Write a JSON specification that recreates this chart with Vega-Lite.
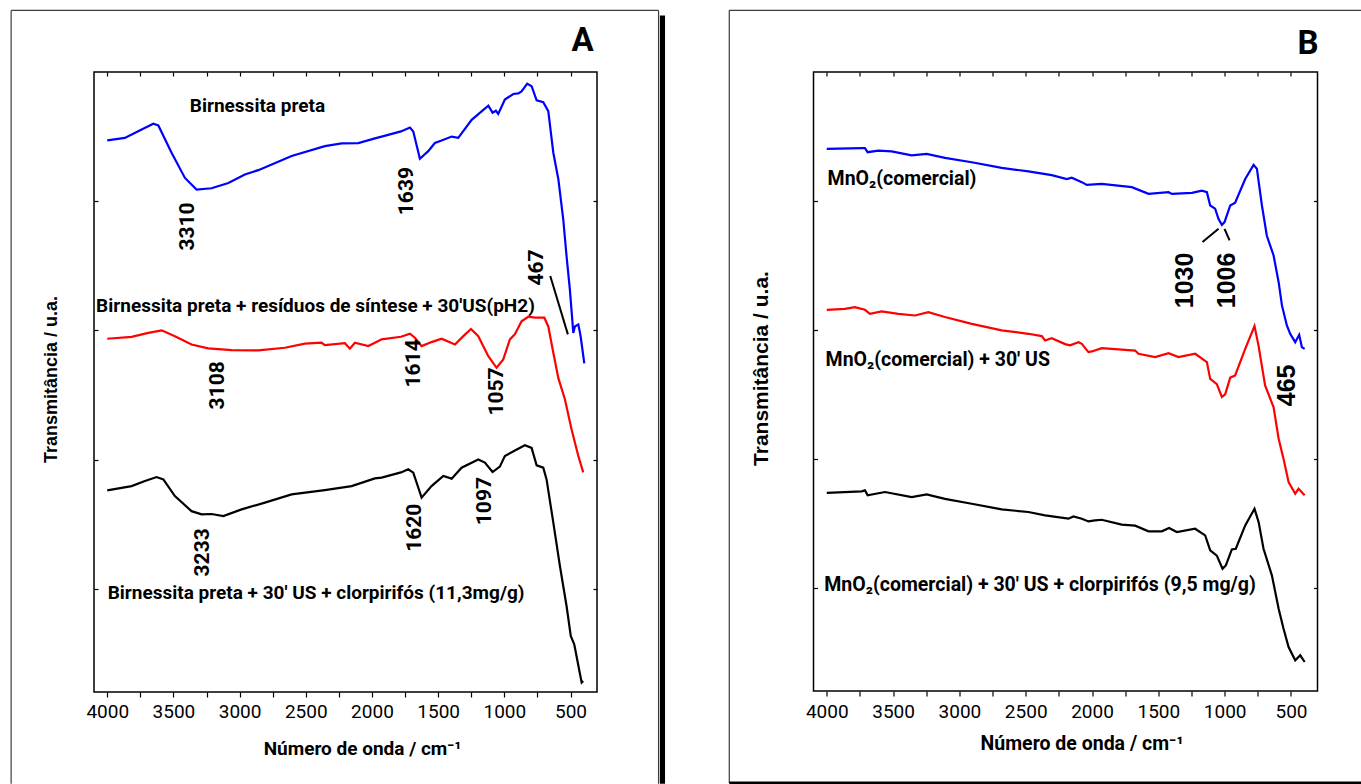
{
  "$schema": "https://vega.github.io/schema/vega-lite/v6.json",
  "background": "white",
  "padding": {"left": 9, "top": 9, "right": 0, "bottom": 0},
  "bounds": "flush",
  "spacing": 216.5,
  "config": {
    "view": {"stroke": "black", "strokeWidth": 1.5},
    "axis": {"grid": false, "domain": false, "tickColor": "black", "tickWidth": 1.2, "labelColor": "black", "titleColor": "black"}
  },
  "datasets": {
    "espectros_A": [
      {"amostra": "Birnessita preta", "numero_onda": 4000, "transmitancia": 4.27},
      {"amostra": "Birnessita preta", "numero_onda": 3867, "transmitancia": 4.29},
      {"amostra": "Birnessita preta", "numero_onda": 3740, "transmitancia": 4.355},
      {"amostra": "Birnessita preta", "numero_onda": 3652, "transmitancia": 4.40},
      {"amostra": "Birnessita preta", "numero_onda": 3614, "transmitancia": 4.386},
      {"amostra": "Birnessita preta", "numero_onda": 3514, "transmitancia": 4.175},
      {"amostra": "Birnessita preta", "numero_onda": 3413, "transmitancia": 3.98},
      {"amostra": "Birnessita preta", "numero_onda": 3325, "transmitancia": 3.89},
      {"amostra": "Birnessita preta", "numero_onda": 3212, "transmitancia": 3.90},
      {"amostra": "Birnessita preta", "numero_onda": 3085, "transmitancia": 3.94},
      {"amostra": "Birnessita preta", "numero_onda": 2960, "transmitancia": 4.007},
      {"amostra": "Birnessita preta", "numero_onda": 2859, "transmitancia": 4.04},
      {"amostra": "Birnessita preta", "numero_onda": 2607, "transmitancia": 4.15},
      {"amostra": "Birnessita preta", "numero_onda": 2356, "transmitancia": 4.226},
      {"amostra": "Birnessita preta", "numero_onda": 2229, "transmitancia": 4.247},
      {"amostra": "Birnessita preta", "numero_onda": 2103, "transmitancia": 4.25},
      {"amostra": "Birnessita preta", "numero_onda": 1978, "transmitancia": 4.286},
      {"amostra": "Birnessita preta", "numero_onda": 1927, "transmitancia": 4.30},
      {"amostra": "Birnessita preta", "numero_onda": 1781, "transmitancia": 4.34},
      {"amostra": "Birnessita preta", "numero_onda": 1713, "transmitancia": 4.37},
      {"amostra": "Birnessita preta", "numero_onda": 1688, "transmitancia": 4.34},
      {"amostra": "Birnessita preta", "numero_onda": 1638, "transmitancia": 4.128},
      {"amostra": "Birnessita preta", "numero_onda": 1575, "transmitancia": 4.187},
      {"amostra": "Birnessita preta", "numero_onda": 1525, "transmitancia": 4.25},
      {"amostra": "Birnessita preta", "numero_onda": 1474, "transmitancia": 4.27},
      {"amostra": "Birnessita preta", "numero_onda": 1398, "transmitancia": 4.30},
      {"amostra": "Birnessita preta", "numero_onda": 1348, "transmitancia": 4.29},
      {"amostra": "Birnessita preta", "numero_onda": 1247, "transmitancia": 4.43},
      {"amostra": "Birnessita preta", "numero_onda": 1121, "transmitancia": 4.54},
      {"amostra": "Birnessita preta", "numero_onda": 1089, "transmitancia": 4.485},
      {"amostra": "Birnessita preta", "numero_onda": 1064, "transmitancia": 4.50},
      {"amostra": "Birnessita preta", "numero_onda": 1046, "transmitancia": 4.476},
      {"amostra": "Birnessita preta", "numero_onda": 996, "transmitancia": 4.587},
      {"amostra": "Birnessita preta", "numero_onda": 932, "transmitancia": 4.63},
      {"amostra": "Birnessita preta", "numero_onda": 895, "transmitancia": 4.634},
      {"amostra": "Birnessita preta", "numero_onda": 870, "transmitancia": 4.65},
      {"amostra": "Birnessita preta", "numero_onda": 827, "transmitancia": 4.71},
      {"amostra": "Birnessita preta", "numero_onda": 794, "transmitancia": 4.69},
      {"amostra": "Birnessita preta", "numero_onda": 756, "transmitancia": 4.58},
      {"amostra": "Birnessita preta", "numero_onda": 706, "transmitancia": 4.567},
      {"amostra": "Birnessita preta", "numero_onda": 668, "transmitancia": 4.497},
      {"amostra": "Birnessita preta", "numero_onda": 630, "transmitancia": 4.175},
      {"amostra": "Birnessita preta", "numero_onda": 592, "transmitancia": 3.97},
      {"amostra": "Birnessita preta", "numero_onda": 555, "transmitancia": 3.66},
      {"amostra": "Birnessita preta", "numero_onda": 530, "transmitancia": 3.375},
      {"amostra": "Birnessita preta", "numero_onda": 505, "transmitancia": 3.117},
      {"amostra": "Birnessita preta", "numero_onda": 479, "transmitancia": 2.78},
      {"amostra": "Birnessita preta", "numero_onda": 467, "transmitancia": 2.83},
      {"amostra": "Birnessita preta", "numero_onda": 441, "transmitancia": 2.846},
      {"amostra": "Birnessita preta", "numero_onda": 424, "transmitancia": 2.756},
      {"amostra": "Birnessita preta", "numero_onda": 396, "transmitancia": 2.544},

      {"amostra": "Birnessita + resíduos (pH2)", "numero_onda": 4000, "transmitancia": 2.735},
      {"amostra": "Birnessita + resíduos (pH2)", "numero_onda": 3816, "transmitancia": 2.75},
      {"amostra": "Birnessita + resíduos (pH2)", "numero_onda": 3690, "transmitancia": 2.78},
      {"amostra": "Birnessita + resíduos (pH2)", "numero_onda": 3589, "transmitancia": 2.80},
      {"amostra": "Birnessita + resíduos (pH2)", "numero_onda": 3489, "transmitancia": 2.755},
      {"amostra": "Birnessita + resíduos (pH2)", "numero_onda": 3363, "transmitancia": 2.69},
      {"amostra": "Birnessita + resíduos (pH2)", "numero_onda": 3237, "transmitancia": 2.66},
      {"amostra": "Birnessita + resíduos (pH2)", "numero_onda": 3060, "transmitancia": 2.647},
      {"amostra": "Birnessita + resíduos (pH2)", "numero_onda": 2859, "transmitancia": 2.645},
      {"amostra": "Birnessita + resíduos (pH2)", "numero_onda": 2658, "transmitancia": 2.665},
      {"amostra": "Birnessita + resíduos (pH2)", "numero_onda": 2507, "transmitancia": 2.697},
      {"amostra": "Birnessita + resíduos (pH2)", "numero_onda": 2381, "transmitancia": 2.704},
      {"amostra": "Birnessita + resíduos (pH2)", "numero_onda": 2356, "transmitancia": 2.686},
      {"amostra": "Birnessita + resíduos (pH2)", "numero_onda": 2205, "transmitancia": 2.70},
      {"amostra": "Birnessita + resíduos (pH2)", "numero_onda": 2167, "transmitancia": 2.658},
      {"amostra": "Birnessita + resíduos (pH2)", "numero_onda": 2129, "transmitancia": 2.704},
      {"amostra": "Birnessita + resíduos (pH2)", "numero_onda": 2028, "transmitancia": 2.678},
      {"amostra": "Birnessita + resíduos (pH2)", "numero_onda": 1978, "transmitancia": 2.704},
      {"amostra": "Birnessita + resíduos (pH2)", "numero_onda": 1927, "transmitancia": 2.73},
      {"amostra": "Birnessita + resíduos (pH2)", "numero_onda": 1781, "transmitancia": 2.75},
      {"amostra": "Birnessita + resíduos (pH2)", "numero_onda": 1713, "transmitancia": 2.774},
      {"amostra": "Birnessita + resíduos (pH2)", "numero_onda": 1676, "transmitancia": 2.743},
      {"amostra": "Birnessita + resíduos (pH2)", "numero_onda": 1625, "transmitancia": 2.678},
      {"amostra": "Birnessita + resíduos (pH2)", "numero_onda": 1550, "transmitancia": 2.709},
      {"amostra": "Birnessita + resíduos (pH2)", "numero_onda": 1474, "transmitancia": 2.735},
      {"amostra": "Birnessita + resíduos (pH2)", "numero_onda": 1373, "transmitancia": 2.69},
      {"amostra": "Birnessita + resíduos (pH2)", "numero_onda": 1310, "transmitancia": 2.755},
      {"amostra": "Birnessita + resíduos (pH2)", "numero_onda": 1252, "transmitancia": 2.81},
      {"amostra": "Birnessita + resíduos (pH2)", "numero_onda": 1197, "transmitancia": 2.755},
      {"amostra": "Birnessita + resíduos (pH2)", "numero_onda": 1121, "transmitancia": 2.60},
      {"amostra": "Birnessita + resíduos (pH2)", "numero_onda": 1059, "transmitancia": 2.51},
      {"amostra": "Birnessita + resíduos (pH2)", "numero_onda": 1008, "transmitancia": 2.575},
      {"amostra": "Birnessita + resíduos (pH2)", "numero_onda": 958, "transmitancia": 2.73},
      {"amostra": "Birnessita + resíduos (pH2)", "numero_onda": 920, "transmitancia": 2.77},
      {"amostra": "Birnessita + resíduos (pH2)", "numero_onda": 870, "transmitancia": 2.87},
      {"amostra": "Birnessita + resíduos (pH2)", "numero_onda": 819, "transmitancia": 2.905},
      {"amostra": "Birnessita + resíduos (pH2)", "numero_onda": 769, "transmitancia": 2.898},
      {"amostra": "Birnessita + resíduos (pH2)", "numero_onda": 698, "transmitancia": 2.898},
      {"amostra": "Birnessita + resíduos (pH2)", "numero_onda": 668, "transmitancia": 2.83},
      {"amostra": "Birnessita + resíduos (pH2)", "numero_onda": 630, "transmitancia": 2.627},
      {"amostra": "Birnessita + resíduos (pH2)", "numero_onda": 592, "transmitancia": 2.43},
      {"amostra": "Birnessita + resíduos (pH2)", "numero_onda": 542, "transmitancia": 2.265},
      {"amostra": "Birnessita + resíduos (pH2)", "numero_onda": 492, "transmitancia": 2.033},
      {"amostra": "Birnessita + resíduos (pH2)", "numero_onda": 441, "transmitancia": 1.827},
      {"amostra": "Birnessita + resíduos (pH2)", "numero_onda": 404, "transmitancia": 1.70},

      {"amostra": "Birnessita + clorpirifós", "numero_onda": 4000, "transmitancia": 1.561},
      {"amostra": "Birnessita + clorpirifós", "numero_onda": 3816, "transmitancia": 1.594},
      {"amostra": "Birnessita + clorpirifós", "numero_onda": 3715, "transmitancia": 1.633},
      {"amostra": "Birnessita + clorpirifós", "numero_onda": 3627, "transmitancia": 1.664},
      {"amostra": "Birnessita + clorpirifós", "numero_onda": 3576, "transmitancia": 1.646},
      {"amostra": "Birnessita + clorpirifós", "numero_onda": 3489, "transmitancia": 1.517},
      {"amostra": "Birnessita + clorpirifós", "numero_onda": 3363, "transmitancia": 1.40},
      {"amostra": "Birnessita + clorpirifós", "numero_onda": 3287, "transmitancia": 1.375},
      {"amostra": "Birnessita + clorpirifós", "numero_onda": 3212, "transmitancia": 1.378},
      {"amostra": "Birnessita + clorpirifós", "numero_onda": 3123, "transmitancia": 1.362},
      {"amostra": "Birnessita + clorpirifós", "numero_onda": 2985, "transmitancia": 1.414},
      {"amostra": "Birnessita + clorpirifós", "numero_onda": 2809, "transmitancia": 1.466},
      {"amostra": "Birnessita + clorpirifós", "numero_onda": 2607, "transmitancia": 1.53},
      {"amostra": "Birnessita + clorpirifós", "numero_onda": 2356, "transmitancia": 1.563},
      {"amostra": "Birnessita + clorpirifós", "numero_onda": 2154, "transmitancia": 1.594},
      {"amostra": "Birnessita + clorpirifós", "numero_onda": 1978, "transmitancia": 1.654},
      {"amostra": "Birnessita + clorpirifós", "numero_onda": 1927, "transmitancia": 1.66},
      {"amostra": "Birnessita + clorpirifós", "numero_onda": 1781, "transmitancia": 1.70},
      {"amostra": "Birnessita + clorpirifós", "numero_onda": 1726, "transmitancia": 1.724},
      {"amostra": "Birnessita + clorpirifós", "numero_onda": 1688, "transmitancia": 1.698},
      {"amostra": "Birnessita + clorpirifós", "numero_onda": 1625, "transmitancia": 1.505},
      {"amostra": "Birnessita + clorpirifós", "numero_onda": 1550, "transmitancia": 1.594},
      {"amostra": "Birnessita + clorpirifós", "numero_onda": 1461, "transmitancia": 1.672},
      {"amostra": "Birnessita + clorpirifós", "numero_onda": 1398, "transmitancia": 1.652},
      {"amostra": "Birnessita + clorpirifós", "numero_onda": 1323, "transmitancia": 1.737},
      {"amostra": "Birnessita + clorpirifós", "numero_onda": 1197, "transmitancia": 1.80},
      {"amostra": "Birnessita + clorpirifós", "numero_onda": 1147, "transmitancia": 1.776},
      {"amostra": "Birnessita + clorpirifós", "numero_onda": 1089, "transmitancia": 1.703},
      {"amostra": "Birnessita + clorpirifós", "numero_onda": 1034, "transmitancia": 1.745},
      {"amostra": "Birnessita + clorpirifós", "numero_onda": 996, "transmitancia": 1.827},
      {"amostra": "Birnessita + clorpirifós", "numero_onda": 920, "transmitancia": 1.87},
      {"amostra": "Birnessita + clorpirifós", "numero_onda": 845, "transmitancia": 1.91},
      {"amostra": "Birnessita + clorpirifós", "numero_onda": 794, "transmitancia": 1.89},
      {"amostra": "Birnessita + clorpirifós", "numero_onda": 756, "transmitancia": 1.755},
      {"amostra": "Birnessita + clorpirifós", "numero_onda": 706, "transmitancia": 1.737},
      {"amostra": "Birnessita + clorpirifós", "numero_onda": 681, "transmitancia": 1.646},
      {"amostra": "Birnessita + clorpirifós", "numero_onda": 630, "transmitancia": 1.311},
      {"amostra": "Birnessita + clorpirifós", "numero_onda": 580, "transmitancia": 0.975},
      {"amostra": "Birnessita + clorpirifós", "numero_onda": 530, "transmitancia": 0.666},
      {"amostra": "Birnessita + clorpirifós", "numero_onda": 498, "transmitancia": 0.433},
      {"amostra": "Birnessita + clorpirifós", "numero_onda": 472, "transmitancia": 0.37},
      {"amostra": "Birnessita + clorpirifós", "numero_onda": 416, "transmitancia": 0.073},
      {"amostra": "Birnessita + clorpirifós", "numero_onda": 404, "transmitancia": 0.085}
    ],
    "espectros_B": [
      {"amostra": "MnO2 comercial", "numero_onda": 4000, "transmitancia": 4.204},
      {"amostra": "MnO2 comercial", "numero_onda": 3737, "transmitancia": 4.209},
      {"amostra": "MnO2 comercial", "numero_onda": 3712, "transmitancia": 4.21},
      {"amostra": "MnO2 comercial", "numero_onda": 3692, "transmitancia": 4.178},
      {"amostra": "MnO2 comercial", "numero_onda": 3611, "transmitancia": 4.19},
      {"amostra": "MnO2 comercial", "numero_onda": 3511, "transmitancia": 4.184},
      {"amostra": "MnO2 comercial", "numero_onda": 3360, "transmitancia": 4.153},
      {"amostra": "MnO2 comercial", "numero_onda": 3247, "transmitancia": 4.165},
      {"amostra": "MnO2 comercial", "numero_onda": 3109, "transmitancia": 4.134},
      {"amostra": "MnO2 comercial", "numero_onda": 2907, "transmitancia": 4.10},
      {"amostra": "MnO2 comercial", "numero_onda": 2681, "transmitancia": 4.057},
      {"amostra": "MnO2 comercial", "numero_onda": 2480, "transmitancia": 4.029},
      {"amostra": "MnO2 comercial", "numero_onda": 2304, "transmitancia": 4.00},
      {"amostra": "MnO2 comercial", "numero_onda": 2190, "transmitancia": 3.97},
      {"amostra": "MnO2 comercial", "numero_onda": 2153, "transmitancia": 3.98},
      {"amostra": "MnO2 comercial", "numero_onda": 2077, "transmitancia": 3.946},
      {"amostra": "MnO2 comercial", "numero_onda": 2040, "transmitancia": 3.925},
      {"amostra": "MnO2 comercial", "numero_onda": 1927, "transmitancia": 3.933},
      {"amostra": "MnO2 comercial", "numero_onda": 1700, "transmitancia": 3.907},
      {"amostra": "MnO2 comercial", "numero_onda": 1574, "transmitancia": 3.855},
      {"amostra": "MnO2 comercial", "numero_onda": 1423, "transmitancia": 3.868},
      {"amostra": "MnO2 comercial", "numero_onda": 1398, "transmitancia": 3.855},
      {"amostra": "MnO2 comercial", "numero_onda": 1247, "transmitancia": 3.863},
      {"amostra": "MnO2 comercial", "numero_onda": 1172, "transmitancia": 3.88},
      {"amostra": "MnO2 comercial", "numero_onda": 1134, "transmitancia": 3.868},
      {"amostra": "MnO2 comercial", "numero_onda": 1109, "transmitancia": 3.765},
      {"amostra": "MnO2 comercial", "numero_onda": 1072, "transmitancia": 3.74},
      {"amostra": "MnO2 comercial", "numero_onda": 1046, "transmitancia": 3.66},
      {"amostra": "MnO2 comercial", "numero_onda": 1021, "transmitancia": 3.615},
      {"amostra": "MnO2 comercial", "numero_onda": 1001, "transmitancia": 3.636},
      {"amostra": "MnO2 comercial", "numero_onda": 958, "transmitancia": 3.765},
      {"amostra": "MnO2 comercial", "numero_onda": 921, "transmitancia": 3.786},
      {"amostra": "MnO2 comercial", "numero_onda": 845, "transmitancia": 3.97},
      {"amostra": "MnO2 comercial", "numero_onda": 782, "transmitancia": 4.08},
      {"amostra": "MnO2 comercial", "numero_onda": 757, "transmitancia": 4.05},
      {"amostra": "MnO2 comercial", "numero_onda": 719, "transmitancia": 3.765},
      {"amostra": "MnO2 comercial", "numero_onda": 682, "transmitancia": 3.53},
      {"amostra": "MnO2 comercial", "numero_onda": 631, "transmitancia": 3.377},
      {"amostra": "MnO2 comercial", "numero_onda": 593, "transmitancia": 3.17},
      {"amostra": "MnO2 comercial", "numero_onda": 568, "transmitancia": 2.99},
      {"amostra": "MnO2 comercial", "numero_onda": 531, "transmitancia": 2.835},
      {"amostra": "MnO2 comercial", "numero_onda": 506, "transmitancia": 2.77},
      {"amostra": "MnO2 comercial", "numero_onda": 468, "transmitancia": 2.705},
      {"amostra": "MnO2 comercial", "numero_onda": 438, "transmitancia": 2.762},
      {"amostra": "MnO2 comercial", "numero_onda": 418, "transmitancia": 2.667},
      {"amostra": "MnO2 comercial", "numero_onda": 397, "transmitancia": 2.653},

      {"amostra": "MnO2 + 30' US", "numero_onda": 4000, "transmitancia": 2.956},
      {"amostra": "MnO2 + 30' US", "numero_onda": 3863, "transmitancia": 2.963},
      {"amostra": "MnO2 + 30' US", "numero_onda": 3788, "transmitancia": 2.977},
      {"amostra": "MnO2 + 30' US", "numero_onda": 3712, "transmitancia": 2.956},
      {"amostra": "MnO2 + 30' US", "numero_onda": 3675, "transmitancia": 2.925},
      {"amostra": "MnO2 + 30' US", "numero_onda": 3586, "transmitancia": 2.943},
      {"amostra": "MnO2 + 30' US", "numero_onda": 3460, "transmitancia": 2.925},
      {"amostra": "MnO2 + 30' US", "numero_onda": 3335, "transmitancia": 2.912},
      {"amostra": "MnO2 + 30' US", "numero_onda": 3234, "transmitancia": 2.938},
      {"amostra": "MnO2 + 30' US", "numero_onda": 3109, "transmitancia": 2.90},
      {"amostra": "MnO2 + 30' US", "numero_onda": 2907, "transmitancia": 2.847},
      {"amostra": "MnO2 + 30' US", "numero_onda": 2681, "transmitancia": 2.796},
      {"amostra": "MnO2 + 30' US", "numero_onda": 2480, "transmitancia": 2.77},
      {"amostra": "MnO2 + 30' US", "numero_onda": 2379, "transmitancia": 2.752},
      {"amostra": "MnO2 + 30' US", "numero_onda": 2354, "transmitancia": 2.718},
      {"amostra": "MnO2 + 30' US", "numero_onda": 2304, "transmitancia": 2.736},
      {"amostra": "MnO2 + 30' US", "numero_onda": 2203, "transmitancia": 2.69},
      {"amostra": "MnO2 + 30' US", "numero_onda": 2166, "transmitancia": 2.68},
      {"amostra": "MnO2 + 30' US", "numero_onda": 2102, "transmitancia": 2.705},
      {"amostra": "MnO2 + 30' US", "numero_onda": 2077, "transmitancia": 2.692},
      {"amostra": "MnO2 + 30' US", "numero_onda": 2027, "transmitancia": 2.628},
      {"amostra": "MnO2 + 30' US", "numero_onda": 2001, "transmitancia": 2.633},
      {"amostra": "MnO2 + 30' US", "numero_onda": 1927, "transmitancia": 2.659},
      {"amostra": "MnO2 + 30' US", "numero_onda": 1675, "transmitancia": 2.64},
      {"amostra": "MnO2 + 30' US", "numero_onda": 1650, "transmitancia": 2.615},
      {"amostra": "MnO2 + 30' US", "numero_onda": 1524, "transmitancia": 2.59},
      {"amostra": "MnO2 + 30' US", "numero_onda": 1423, "transmitancia": 2.62},
      {"amostra": "MnO2 + 30' US", "numero_onda": 1348, "transmitancia": 2.59},
      {"amostra": "MnO2 + 30' US", "numero_onda": 1222, "transmitancia": 2.615},
      {"amostra": "MnO2 + 30' US", "numero_onda": 1134, "transmitancia": 2.55},
      {"amostra": "MnO2 + 30' US", "numero_onda": 1109, "transmitancia": 2.42},
      {"amostra": "MnO2 + 30' US", "numero_onda": 1059, "transmitancia": 2.38},
      {"amostra": "MnO2 + 30' US", "numero_onda": 1021, "transmitancia": 2.28},
      {"amostra": "MnO2 + 30' US", "numero_onda": 996, "transmitancia": 2.30},
      {"amostra": "MnO2 + 30' US", "numero_onda": 958, "transmitancia": 2.43},
      {"amostra": "MnO2 + 30' US", "numero_onda": 921, "transmitancia": 2.447},
      {"amostra": "MnO2 + 30' US", "numero_onda": 845, "transmitancia": 2.653},
      {"amostra": "MnO2 + 30' US", "numero_onda": 775, "transmitancia": 2.83},
      {"amostra": "MnO2 + 30' US", "numero_onda": 745, "transmitancia": 2.68},
      {"amostra": "MnO2 + 30' US", "numero_onda": 695, "transmitancia": 2.37},
      {"amostra": "MnO2 + 30' US", "numero_onda": 631, "transmitancia": 2.20},
      {"amostra": "MnO2 + 30' US", "numero_onda": 593, "transmitancia": 1.956},
      {"amostra": "MnO2 + 30' US", "numero_onda": 556, "transmitancia": 1.80},
      {"amostra": "MnO2 + 30' US", "numero_onda": 518, "transmitancia": 1.62},
      {"amostra": "MnO2 + 30' US", "numero_onda": 468, "transmitancia": 1.53},
      {"amostra": "MnO2 + 30' US", "numero_onda": 443, "transmitancia": 1.568},
      {"amostra": "MnO2 + 30' US", "numero_onda": 397, "transmitancia": 1.517},

      {"amostra": "MnO2 + 30' US + clorpirifós", "numero_onda": 4000, "transmitancia": 1.537},
      {"amostra": "MnO2 + 30' US + clorpirifós", "numero_onda": 3737, "transmitancia": 1.548},
      {"amostra": "MnO2 + 30' US + clorpirifós", "numero_onda": 3712, "transmitancia": 1.556},
      {"amostra": "MnO2 + 30' US + clorpirifós", "numero_onda": 3692, "transmitancia": 1.517},
      {"amostra": "MnO2 + 30' US + clorpirifós", "numero_onda": 3561, "transmitancia": 1.543},
      {"amostra": "MnO2 + 30' US + clorpirifós", "numero_onda": 3360, "transmitancia": 1.504},
      {"amostra": "MnO2 + 30' US + clorpirifós", "numero_onda": 3247, "transmitancia": 1.525},
      {"amostra": "MnO2 + 30' US + clorpirifós", "numero_onda": 3109, "transmitancia": 1.49},
      {"amostra": "MnO2 + 30' US + clorpirifós", "numero_onda": 2907, "transmitancia": 1.452},
      {"amostra": "MnO2 + 30' US + clorpirifós", "numero_onda": 2681, "transmitancia": 1.408},
      {"amostra": "MnO2 + 30' US + clorpirifós", "numero_onda": 2480, "transmitancia": 1.388},
      {"amostra": "MnO2 + 30' US + clorpirifós", "numero_onda": 2354, "transmitancia": 1.362},
      {"amostra": "MnO2 + 30' US + clorpirifós", "numero_onda": 2178, "transmitancia": 1.336},
      {"amostra": "MnO2 + 30' US + clorpirifós", "numero_onda": 2140, "transmitancia": 1.354},
      {"amostra": "MnO2 + 30' US + clorpirifós", "numero_onda": 2077, "transmitancia": 1.336},
      {"amostra": "MnO2 + 30' US + clorpirifós", "numero_onda": 2027, "transmitancia": 1.315},
      {"amostra": "MnO2 + 30' US + clorpirifós", "numero_onda": 1977, "transmitancia": 1.323},
      {"amostra": "MnO2 + 30' US + clorpirifós", "numero_onda": 1927, "transmitancia": 1.328},
      {"amostra": "MnO2 + 30' US + clorpirifós", "numero_onda": 1776, "transmitancia": 1.29},
      {"amostra": "MnO2 + 30' US + clorpirifós", "numero_onda": 1675, "transmitancia": 1.282},
      {"amostra": "MnO2 + 30' US + clorpirifós", "numero_onda": 1574, "transmitancia": 1.238},
      {"amostra": "MnO2 + 30' US + clorpirifós", "numero_onda": 1474, "transmitancia": 1.238},
      {"amostra": "MnO2 + 30' US + clorpirifós", "numero_onda": 1419, "transmitancia": 1.264},
      {"amostra": "MnO2 + 30' US + clorpirifós", "numero_onda": 1361, "transmitancia": 1.233},
      {"amostra": "MnO2 + 30' US + clorpirifós", "numero_onda": 1223, "transmitancia": 1.258},
      {"amostra": "MnO2 + 30' US + clorpirifós", "numero_onda": 1147, "transmitancia": 1.207},
      {"amostra": "MnO2 + 30' US + clorpirifós", "numero_onda": 1109, "transmitancia": 1.09},
      {"amostra": "MnO2 + 30' US + clorpirifós", "numero_onda": 1059, "transmitancia": 1.05},
      {"amostra": "MnO2 + 30' US + clorpirifós", "numero_onda": 1016, "transmitancia": 0.948},
      {"amostra": "MnO2 + 30' US + clorpirifós", "numero_onda": 991, "transmitancia": 0.974},
      {"amostra": "MnO2 + 30' US + clorpirifós", "numero_onda": 946, "transmitancia": 1.098},
      {"amostra": "MnO2 + 30' US + clorpirifós", "numero_onda": 916, "transmitancia": 1.103},
      {"amostra": "MnO2 + 30' US + clorpirifós", "numero_onda": 845, "transmitancia": 1.284},
      {"amostra": "MnO2 + 30' US + clorpirifós", "numero_onda": 775, "transmitancia": 1.413},
      {"amostra": "MnO2 + 30' US + clorpirifós", "numero_onda": 744, "transmitancia": 1.31},
      {"amostra": "MnO2 + 30' US + clorpirifós", "numero_onda": 707, "transmitancia": 1.103},
      {"amostra": "MnO2 + 30' US + clorpirifós", "numero_onda": 644, "transmitancia": 0.897},
      {"amostra": "MnO2 + 30' US + clorpirifós", "numero_onda": 593, "transmitancia": 0.638},
      {"amostra": "MnO2 + 30' US + clorpirifós", "numero_onda": 556, "transmitancia": 0.483},
      {"amostra": "MnO2 + 30' US + clorpirifós", "numero_onda": 518, "transmitancia": 0.341},
      {"amostra": "MnO2 + 30' US + clorpirifós", "numero_onda": 468, "transmitancia": 0.238},
      {"amostra": "MnO2 + 30' US + clorpirifós", "numero_onda": 430, "transmitancia": 0.277},
      {"amostra": "MnO2 + 30' US + clorpirifós", "numero_onda": 397, "transmitancia": 0.225}
    ]
  },
  "hconcat": [
    {
      "width": 503,
      "height": 620,
      "layer": [
        {
          "data": {"values": [{}]},
          "mark": {"type": "rule", "stroke": "#3c3c3c", "strokeWidth": 1.2},
          "encoding": {
            "x": {"datum": 4726, "type": "quantitative", "scale": {"domain": [300, 4100], "reverse": true, "nice": false, "zero": false},
                  "axis": {"orient": "top", "values": [500, 750, 1000, 1250, 1500, 1750, 2000, 2250, 2500, 2750, 3000, 3250, 3500, 3750, 4000], "labels": false, "tickSize": -4, "title": null}},
            "x2": {"datum": -165},
            "y": {"datum": 5.277, "type": "quantitative", "scale": {"domain": [0, 4.8], "nice": false, "zero": false},
                  "axis": {"orient": "right", "values": [0.8, 1.8, 2.8, 3.8], "labels": false, "tickSize": -4, "title": null}}
          }
        },
        {
          "data": {"values": [{}]},
          "mark": {"type": "rule", "stroke": "#3c3c3c", "strokeWidth": 1.2},
          "encoding": {
            "x": {"datum": 4726, "type": "quantitative", "scale": {"domain": [300, 4100], "reverse": true, "nice": false, "zero": false}, "axis": null},
            "y": {"datum": 5.277, "type": "quantitative", "scale": {"domain": [0, 4.8], "nice": false, "zero": false}, "axis": null},
            "y2": {"datum": -0.71}
          }
        },
        {
          "data": {"values": [{}]},
          "mark": {"type": "rule", "stroke": "#3c3c3c", "strokeWidth": 1.2},
          "encoding": {
            "x": {"datum": -165, "type": "quantitative", "scale": {"domain": [300, 4100], "reverse": true, "nice": false, "zero": false}, "axis": null},
            "y": {"datum": 5.277, "type": "quantitative", "scale": {"domain": [0, 4.8], "nice": false, "zero": false}, "axis": null},
            "y2": {"datum": -0.71}
          }
        },
        {
          "data": {"values": [{}]},
          "mark": {"type": "rect", "fill": "black"},
          "encoding": {
            "x": {"datum": -175, "type": "quantitative", "scale": {"domain": [300, 4100], "reverse": true, "nice": false, "zero": false}, "axis": null},
            "x2": {"datum": -214},
            "y": {"datum": 5.238, "type": "quantitative", "scale": {"domain": [0, 4.8], "nice": false, "zero": false}, "axis": null},
            "y2": {"datum": -0.71}
          }
        },
        {
          "data": {"name": "espectros_A"},
          "mark": {"type": "line", "strokeWidth": 2.2},
          "encoding": {
            "x": {"field": "numero_onda", "type": "quantitative", "scale": {"domain": [300, 4100], "reverse": true, "nice": false, "zero": false},
                  "axis": {"orient": "bottom", "values": [500, 750, 1000, 1250, 1500, 1750, 2000, 2250, 2500, 2750, 3000, 3250, 3500, 3750, 4000],
                           "format": "d", "labelExpr": "datum.value % 500 === 0 ? datum.label : ''",
                           "tickSize": 5, "labelFont": "Roboto, 'Liberation Sans', sans-serif", "labelFontSize": 19, "labelPadding": 5,
                           "title": "Número de onda / cm⁻¹", "titleFont": "Roboto, 'Liberation Sans', sans-serif", "titleFontSize": 19, "titleFontWeight": "bold",
                           "titlePadding": 18, "titleX": 268}},
            "y": {"field": "transmitancia", "type": "quantitative", "scale": {"domain": [0, 4.8], "nice": false, "zero": false},
                  "axis": {"orient": "left", "values": [0.8, 1.8, 2.8, 3.8], "labels": false, "tickSize": -4,
                           "title": "Transmitância / u.a.", "titleFont": "'Liberation Sans', Arial, sans-serif", "titleFontSize": 18, "titleFontWeight": "bold",
                           "titlePadding": 33, "titleY": 307}},
            "color": {"field": "amostra", "type": "nominal",
                      "scale": {"domain": ["Birnessita preta", "Birnessita + resíduos (pH2)", "Birnessita + clorpirifós"], "range": ["#0000ff", "#ff0000", "#000000"]},
                      "legend": null}
          }
        },
        {
          "data": {"values": [
            {"legenda": "Birnessita preta", "numero_onda": 3376, "transmitancia": 4.535},
            {"legenda": "Birnessita preta + resíduos de síntese + 30'US(pH2)", "numero_onda": 4084, "transmitancia": 2.988},
            {"legenda": "Birnessita preta + 30' US + clorpirifós (11,3mg/g)", "numero_onda": 3997, "transmitancia": 0.769}
          ]},
          "mark": {"type": "text", "align": "left", "baseline": "middle", "font": "Roboto, 'Liberation Sans', sans-serif", "fontWeight": "bold", "fontSize": 19, "fill": "black"},
          "encoding": {
            "x": {"field": "numero_onda", "type": "quantitative", "scale": {"domain": [300, 4100], "reverse": true, "nice": false, "zero": false}, "axis": null},
            "y": {"field": "transmitancia", "type": "quantitative", "scale": {"domain": [0, 4.8], "nice": false, "zero": false}, "axis": null},
            "text": {"field": "legenda"}
          }
        },
        {
          "data": {"values": [
            {"pico": "3310", "numero_onda": 3388, "transmitancia": 3.604},
            {"pico": "1639", "numero_onda": 1738, "transmitancia": 3.878},
            {"pico": "467", "numero_onda": 756, "transmitancia": 3.287},
            {"pico": "3108", "numero_onda": 3166, "transmitancia": 2.374},
            {"pico": "1614", "numero_onda": 1686, "transmitancia": 2.544},
            {"pico": "1057", "numero_onda": 1059, "transmitancia": 2.327},
            {"pico": "3233", "numero_onda": 3278, "transmitancia": 1.081},
            {"pico": "1620", "numero_onda": 1676, "transmitancia": 1.272},
            {"pico": "1097", "numero_onda": 1147, "transmitancia": 1.478}
          ]},
          "mark": {"type": "text", "angle": 270, "align": "center", "baseline": "middle", "font": "Roboto, 'Liberation Sans', sans-serif", "fontWeight": "bold", "fontSize": 21, "fill": "black"},
          "encoding": {
            "x": {"field": "numero_onda", "type": "quantitative", "scale": {"domain": [300, 4100], "reverse": true, "nice": false, "zero": false}, "axis": null},
            "y": {"field": "transmitancia", "type": "quantitative", "scale": {"domain": [0, 4.8], "nice": false, "zero": false}, "axis": null},
            "text": {"field": "pico"}
          }
        },
        {
          "data": {"values": [
            {"numero_onda": 653, "transmitancia": 3.22, "numero_onda_fim": 520, "transmitancia_fim": 2.769}
          ]},
          "mark": {"type": "rule", "stroke": "black", "strokeWidth": 2},
          "encoding": {
            "x": {"field": "numero_onda", "type": "quantitative", "scale": {"domain": [300, 4100], "reverse": true, "nice": false, "zero": false}, "axis": null},
            "x2": {"field": "numero_onda_fim"},
            "y": {"field": "transmitancia", "type": "quantitative", "scale": {"domain": [0, 4.8], "nice": false, "zero": false}, "axis": null},
            "y2": {"field": "transmitancia_fim"}
          }
        },
        {
          "data": {"values": [{}]},
          "mark": {"type": "text", "text": "A", "align": "center", "baseline": "middle", "font": "Roboto, 'Liberation Sans', sans-serif", "fontWeight": "bold", "fontSize": 33, "fill": "black"},
          "encoding": {
            "x": {"datum": 409, "type": "quantitative", "scale": {"domain": [300, 4100], "reverse": true, "nice": false, "zero": false}, "axis": null},
            "y": {"datum": 5.039, "type": "quantitative", "scale": {"domain": [0, 4.8], "nice": false, "zero": false}, "axis": null}
          }
        }
      ]
    },
    {
      "width": 504,
      "height": 619,
      "layer": [
        {
          "data": {"values": [{}]},
          "mark": {"type": "rule", "stroke": "#3c3c3c", "strokeWidth": 1.2},
          "encoding": {
            "x": {"datum": 4735, "type": "quantitative", "scale": {"domain": [300, 4100], "reverse": true, "nice": false, "zero": false},
                  "axis": {"orient": "top", "values": [500, 750, 1000, 1250, 1500, 1750, 2000, 2250, 2500, 2750, 3000, 3250, 3500, 3750, 4000], "labels": false, "tickSize": -4, "title": null}},
            "x2": {"datum": -29},
            "y": {"datum": 5.278, "type": "quantitative", "scale": {"domain": [0, 4.8], "nice": false, "zero": false},
                  "axis": {"orient": "right", "values": [0.8, 1.8, 2.8, 3.8], "labels": false, "tickSize": -4, "title": null}}
          }
        },
        {
          "data": {"values": [{}]},
          "mark": {"type": "rule", "stroke": "#3c3c3c", "strokeWidth": 1.2},
          "encoding": {
            "x": {"datum": 4735, "type": "quantitative", "scale": {"domain": [300, 4100], "reverse": true, "nice": false, "zero": false}, "axis": null},
            "y": {"datum": 5.278, "type": "quantitative", "scale": {"domain": [0, 4.8], "nice": false, "zero": false}, "axis": null},
            "y2": {"datum": -0.714}
          }
        },
        {
          "data": {"values": [{}]},
          "mark": {"type": "rule", "stroke": "black", "strokeWidth": 3},
          "encoding": {
            "x": {"datum": 4735, "type": "quantitative", "scale": {"domain": [300, 4100], "reverse": true, "nice": false, "zero": false}, "axis": null},
            "x2": {"datum": -29},
            "y": {"datum": -0.714, "type": "quantitative", "scale": {"domain": [0, 4.8], "nice": false, "zero": false}, "axis": null}
          }
        },
        {
          "data": {"name": "espectros_B"},
          "mark": {"type": "line", "strokeWidth": 2.2},
          "encoding": {
            "x": {"field": "numero_onda", "type": "quantitative", "scale": {"domain": [300, 4100], "reverse": true, "nice": false, "zero": false},
                  "axis": {"orient": "bottom", "values": [500, 750, 1000, 1250, 1500, 1750, 2000, 2250, 2500, 2750, 3000, 3250, 3500, 3750, 4000],
                           "format": "d", "labelExpr": "datum.value % 500 === 0 ? datum.label : ''",
                           "tickSize": 5, "labelFont": "Roboto, 'Liberation Sans', sans-serif", "labelFontSize": 19, "labelPadding": 6,
                           "title": "Número de onda / cm⁻¹", "titleFont": "Roboto, 'Liberation Sans', sans-serif", "titleFontSize": 19.5, "titleFontWeight": "bold",
                           "titlePadding": 13, "titleX": 268}},
            "y": {"field": "transmitancia", "type": "quantitative", "scale": {"domain": [0, 4.8], "nice": false, "zero": false},
                  "axis": {"orient": "left", "values": [0.8, 1.8, 2.8, 3.8], "labels": false, "tickSize": -4,
                           "title": "Transmitância / u.a.", "titleFont": "'Liberation Sans', Arial, sans-serif", "titleFontSize": 21, "titleFontWeight": "bold",
                           "titlePadding": 41, "titleY": 296}},
            "color": {"field": "amostra", "type": "nominal",
                      "scale": {"domain": ["MnO2 comercial", "MnO2 + 30' US", "MnO2 + 30' US + clorpirifós"], "range": ["#0000ff", "#ff0000", "#000000"]},
                      "legend": null}
          }
        },
        {
          "data": {"values": [
            {"legenda": "MnO₂(comercial)", "numero_onda": 3994, "transmitancia": 3.972},
            {"legenda": "MnO₂(comercial) + 30' US", "numero_onda": 4009, "transmitancia": 2.57},
            {"legenda": "MnO₂(comercial) + 30' US  + clorpirifós (9,5 mg/g)", "numero_onda": 4019, "transmitancia": 0.819}
          ]},
          "mark": {"type": "text", "align": "left", "baseline": "middle", "font": "Roboto, 'Liberation Sans', sans-serif", "fontWeight": "bold", "fontSize": 19.5, "fill": "black"},
          "encoding": {
            "x": {"field": "numero_onda", "type": "quantitative", "scale": {"domain": [300, 4100], "reverse": true, "nice": false, "zero": false}, "axis": null},
            "y": {"field": "transmitancia", "type": "quantitative", "scale": {"domain": [0, 4.8], "nice": false, "zero": false}, "axis": null},
            "text": {"field": "legenda"}
          }
        },
        {
          "data": {"values": [
            {"pico": "1030", "numero_onda": 1298, "transmitancia": 3.184},
            {"pico": "1006", "numero_onda": 983, "transmitancia": 3.184},
            {"pico": "465", "numero_onda": 531, "transmitancia": 2.37}
          ]},
          "mark": {"type": "text", "angle": 270, "align": "center", "baseline": "middle", "font": "'Liberation Sans', Arial, sans-serif", "fontWeight": "bold", "fontSize": 25, "fill": "black"},
          "encoding": {
            "x": {"field": "numero_onda", "type": "quantitative", "scale": {"domain": [300, 4100], "reverse": true, "nice": false, "zero": false}, "axis": null},
            "y": {"field": "transmitancia", "type": "quantitative", "scale": {"domain": [0, 4.8], "nice": false, "zero": false}, "axis": null},
            "text": {"field": "pico"}
          }
        },
        {
          "data": {"values": [
            {"numero_onda": 1167, "transmitancia": 3.481, "numero_onda_fim": 1046, "transmitancia_fim": 3.584},
            {"numero_onda": 1001, "transmitancia": 3.584, "numero_onda_fim": 963, "transmitancia_fim": 3.494}
          ]},
          "mark": {"type": "rule", "stroke": "black", "strokeWidth": 2},
          "encoding": {
            "x": {"field": "numero_onda", "type": "quantitative", "scale": {"domain": [300, 4100], "reverse": true, "nice": false, "zero": false}, "axis": null},
            "x2": {"field": "numero_onda_fim"},
            "y": {"field": "transmitancia", "type": "quantitative", "scale": {"domain": [0, 4.8], "nice": false, "zero": false}, "axis": null},
            "y2": {"field": "transmitancia_fim"}
          }
        },
        {
          "data": {"values": [{}]},
          "mark": {"type": "text", "text": "B", "align": "center", "baseline": "middle", "font": "Roboto, 'Liberation Sans', sans-serif", "fontWeight": "bold", "fontSize": 33, "fill": "black"},
          "encoding": {
            "x": {"datum": 372, "type": "quantitative", "scale": {"domain": [300, 4100], "reverse": true, "nice": false, "zero": false}, "axis": null},
            "y": {"datum": 5.018, "type": "quantitative", "scale": {"domain": [0, 4.8], "nice": false, "zero": false}, "axis": null}
          }
        }
      ]
    }
  ]
}
